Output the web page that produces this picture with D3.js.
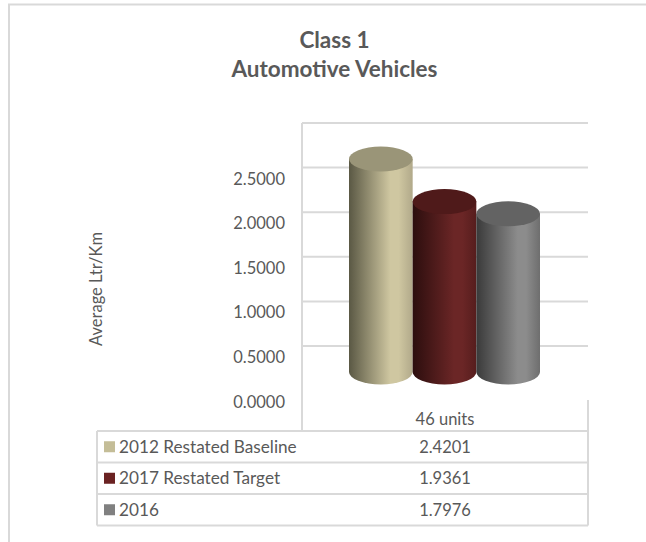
<!DOCTYPE html>
<html>
<head>
<meta charset="utf-8">
<script src="https://cdn.jsdelivr.net/npm/d3@7"></script>
<style>
  body { margin: 0; background: #fff; }
  text { font-family: Lato, "Open Sans", sans-serif; fill: #595959; }
</style>
</head>
<body>
<div id="chart"></div>
<script>
// ============================================================================
// data
// ============================================================================

const categories = ["46 units"];
const seriesNames = ["2012 Restated Baseline", "2017 Restated Target", "2016"];
const seriesValues = [2.4201, 1.9361, 1.7976];
const tickValues = [0, 0.5, 1, 1.5, 2, 2.5];
const gridValues = [0.5, 1, 1.5, 2, 2.5, 3];
const titleLines = ["Class 1", "Automotive Vehicles"];
const yLabel = "Average Ltr/Km";

// colours per series: [left, light, right, top, legend]
const palette = [
  ["#5a5844", "#cfc7a1", "#b1a98a", "#9a9578", "#c4bd97"],
  ["#2c0e0e", "#6b2626", "#561d1d", "#4f1a1a", "#6a2222"],
  ["#3a3a3a", "#8c8c8c", "#6e6e6e", "#636363", "#808080"]
];

// ============================================================================
// drawing
// ============================================================================

const width = 646, height = 542;
const border = "#d9d9d9";

const svg = d3.select("#chart").append("svg")
  .attr("width", width)
  .attr("height", height);

// outer chart frame (cropped on right / bottom)
svg.append("path")
  .attr("d", `M${width + 2},4.5 H9 V${height + 2}`)
  .attr("fill", "none")
  .attr("stroke", border)
  .attr("stroke-width", 2);

// title
svg.append("g").selectAll("text")
  .data(titleLines)
  .join("text")
    .attr("x", 334.5)
    .attr("y", (d, i) => 48 + i * 29)
    .attr("text-anchor", "middle")
    .attr("font-size", 22.5)
    .attr("font-weight", "bold")
    .text(d => d);

// plot geometry
const left = 302, right = 588;
const yWall = d3.scaleLinear().domain([0, 3]).range([390.6, 123]);   // back wall
const yFront = d3.scaleLinear().domain([0, 3]).range([401.7, 134]);  // tick labels
const yCyl = d3.scaleLinear().domain([0, 3]).range([372, 108]);      // cylinders
const x = d3.scaleBand().domain(seriesNames).range([349, 540]).padding(0);

// gridlines on back wall
svg.append("g")
  .attr("stroke", border)
  .attr("stroke-width", 2)
  .selectAll("line")
  .data(gridValues)
  .join("line")
    .attr("x1", left)
    .attr("x2", right)
    .attr("y1", d => yWall(d))
    .attr("y2", d => yWall(d));

svg.append("line")
  .attr("x1", left).attr("x2", left)
  .attr("y1", yWall(3)).attr("y2", 431)
  .attr("stroke", border).attr("stroke-width", 2);

// tick labels
svg.append("g").selectAll("text")
  .data(tickValues)
  .join("text")
    .attr("x", 285)
    .attr("y", d => yFront(d) + 6)
    .attr("text-anchor", "end")
    .attr("font-size", 16.5)
    .text(d => d3.format(".4f")(d));

// axis title
svg.append("text")
  .attr("transform", "translate(102,289) rotate(-90)")
  .attr("text-anchor", "middle")
  .attr("font-size", 16.5)
  .text(yLabel);

// gradients for cylinder bodies
const defs = svg.append("defs");
palette.forEach((p, i) => {
  const g = defs.append("linearGradient")
    .attr("id", "cyl" + i)
    .attr("x1", "0%").attr("x2", "100%");
  g.append("stop").attr("offset", "0%").attr("stop-color", p[0]);
  g.append("stop").attr("offset", "65%").attr("stop-color", p[1]);
  g.append("stop").attr("offset", "78%").attr("stop-color", p[1]);
  g.append("stop").attr("offset", "100%").attr("stop-color", p[2]);
});

// cylinders
const rx = x.bandwidth() / 2, ry = 12.5;
const cyl = svg.append("g").selectAll("g")
  .data(seriesValues)
  .join("g");

cyl.append("path")
  .attr("fill", (d, i) => `url(#cyl${i})`)
  .attr("d", (d, i) => {
    const x0 = x(seriesNames[i]), x1 = x0 + x.bandwidth();
    const yt = yCyl(d), yb = yCyl(0);
    return `M${x0},${yt} L${x0},${yb} A${rx},${ry} 0 0 0 ${x1},${yb} L${x1},${yt} Z`;
  });

cyl.append("ellipse")
  .attr("cx", (d, i) => x(seriesNames[i]) + rx)
  .attr("cy", d => yCyl(d))
  .attr("rx", rx)
  .attr("ry", ry)
  .attr("fill", (d, i) => palette[i][3]);

// ============================================================================
// data table
// ============================================================================

const tLeft = 97, rowTop = 431, rowH = 31.5;
const table = svg.append("g")
  .attr("stroke", border)
  .attr("stroke-width", 2)
  .attr("fill", "none");

// header cell sides
table.append("line")
  .attr("x1", right).attr("x2", right)
  .attr("y1", 400).attr("y2", rowTop + rowH * 3);

d3.range(4).forEach(i => {
  table.append("line")
    .attr("x1", tLeft).attr("x2", right)
    .attr("y1", rowTop + i * rowH).attr("y2", rowTop + i * rowH);
});
table.append("line")
  .attr("x1", tLeft).attr("x2", tLeft)
  .attr("y1", rowTop).attr("y2", rowTop + rowH * 3);

svg.append("text")
  .attr("x", (left + right) / 2)
  .attr("y", 425)
  .attr("text-anchor", "middle")
  .attr("font-size", 16.5)
  .text(categories[0]);

const rows = svg.append("g").selectAll("g")
  .data(seriesNames)
  .join("g")
    .attr("transform", (d, i) => `translate(0,${rowTop + i * rowH + rowH / 2})`);

rows.append("rect")
  .attr("x", 104)
  .attr("y", -5.5)
  .attr("width", 11)
  .attr("height", 11)
  .attr("fill", (d, i) => palette[i][4]);

rows.append("text")
  .attr("x", 119)
  .attr("y", 6)
  .attr("font-size", 17.2)
  .text(d => d);

rows.append("text")
  .attr("x", (left + right) / 2)
  .attr("y", 6)
  .attr("text-anchor", "middle")
  .attr("font-size", 16.5)
  .text((d, i) => d3.format(".4f")(seriesValues[i]));
</script>
</body>
</html>
